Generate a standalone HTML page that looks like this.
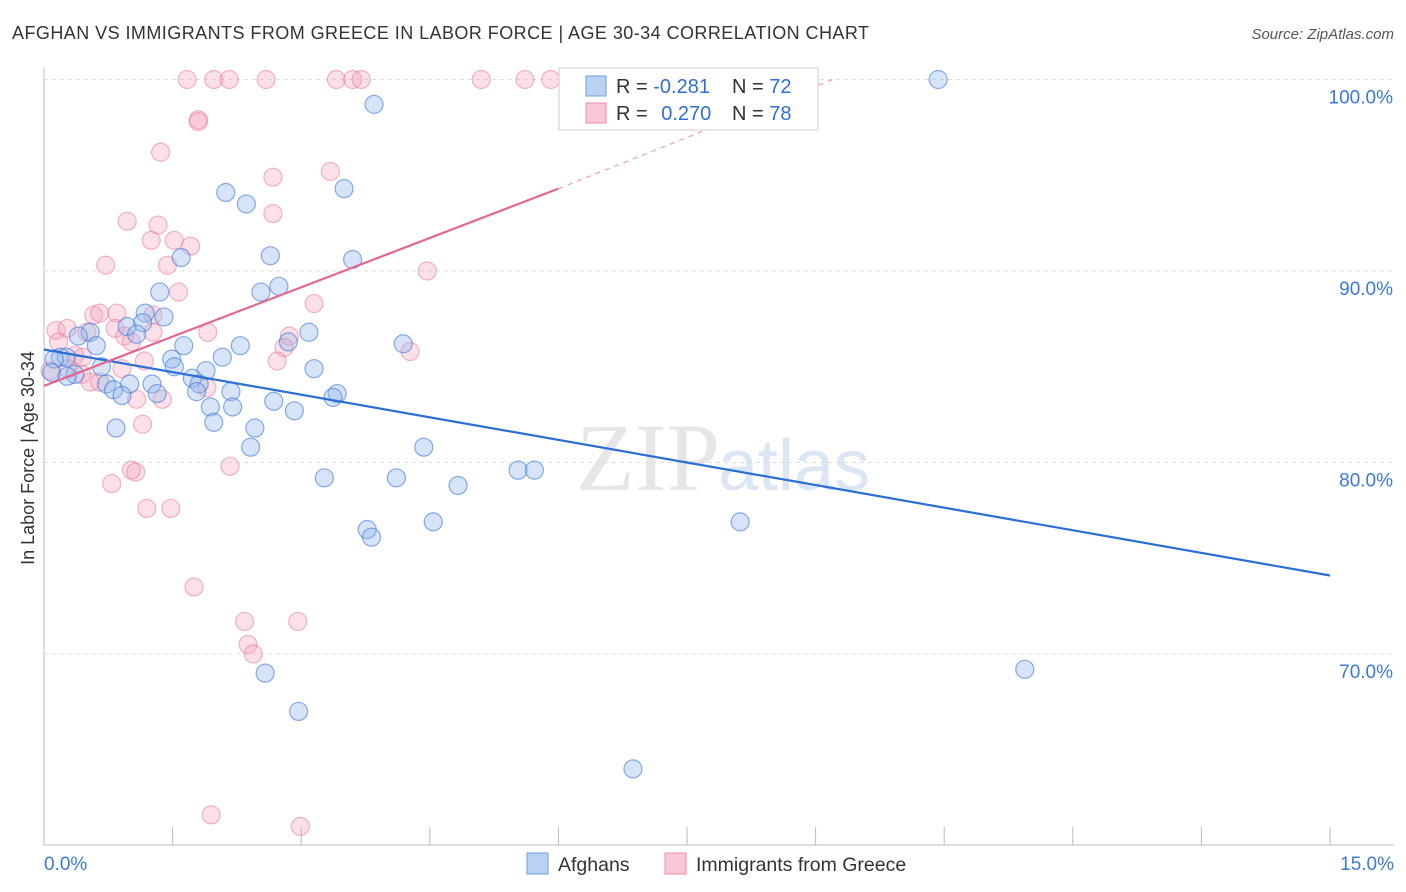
<!DOCTYPE html>
<html><head><meta charset="utf-8"><style>
body{margin:0;background:#fff;font-family:"Liberation Sans",sans-serif;}
svg{display:block}
</style></head><body>
<svg id="chart" width="1406" height="892">
<text x="12" y="39" font-size="18" fill="#333" textLength="857">AFGHAN VS IMMIGRANTS FROM GREECE IN LABOR FORCE | AGE 30-34 CORRELATION CHART</text>
<text x="1394" y="39" font-size="15" fill="#555" font-style="italic" text-anchor="end">Source: ZipAtlas.com</text>
<text x="720" y="490" font-size="96" fill="#e6e6e6" text-anchor="end" font-family="Liberation Serif">ZIP</text>
<text x="718" y="490" font-size="72" fill="#dbe6f4">atlas</text>
<text transform="translate(34,458) rotate(-90)" font-size="18" fill="#333" text-anchor="middle">In Labor Force | Age 30-34</text>
<g id="grid"></g><g id="pts"></g><g id="lines"></g>
<g>
<rect x="559" y="68" width="259" height="62" fill="#fff" stroke="#ccc"/>
<rect x="586" y="76" width="20" height="20" fill="#b9d1f3" stroke="#6f9ee0"/>
<rect x="586" y="103" width="20" height="20" fill="#f8c6d4" stroke="#ea8fab"/>
<text x="616" y="93" font-size="20" fill="#333">R = <tspan fill="#2f6fd6">-0.281</tspan></text>
<text x="732" y="93" font-size="20" fill="#333">N = <tspan fill="#2f6fd6">72</tspan></text>
<text x="616" y="120" font-size="20" fill="#333">R = <tspan fill="#2f6fd6" dx="8">0.270</tspan></text>
<text x="732" y="120" font-size="20" fill="#333">N = <tspan fill="#2f6fd6">78</tspan></text>
</g>
<g>
<rect x="527" y="853" width="21" height="21" fill="#b9d1f3" stroke="#6f9ee0"/>
<text x="558" y="871" font-size="19.5" fill="#333">Afghans</text>
<rect x="665" y="853" width="21" height="21" fill="#f8c6d4" stroke="#ea8fab"/>
<text x="696" y="871" font-size="19.5" fill="#333">Immigrants from Greece</text>
</g>
</svg>
<script>
const blueX=[10.43,3.85,3.50,2.12,2.36,2.64,1.60,3.60,2.74,2.53,1.35,1.18,1.40,0.97,1.15,0.54,1.08,3.09,0.40,0.61,1.63,2.29,4.19,2.85,0.19,0.26,0.12,1.49,2.08,1.52,0.67,3.15,1.89,0.09,0.36,0.27,1.73,1.81,1.26,1.00,0.73,0.81,1.78,2.18,0.91,1.32,3.42,3.37,2.68,1.94,2.20,2.92,1.98,0.84,2.46,2.41,4.43,5.53,5.72,3.27,4.11,4.83,4.54,8.12,3.77,3.82,2.58,11.44,2.97,6.87];
const blueY=[100.0,98.7,94.3,94.1,93.5,90.8,90.7,90.6,89.2,88.9,88.9,87.8,87.6,87.1,87.3,86.8,86.7,86.8,86.6,86.1,86.1,86.1,86.2,86.3,85.5,85.5,85.4,85.4,85.5,85.0,85.0,84.9,84.8,84.7,84.6,84.5,84.4,84.1,84.1,84.1,84.1,83.8,83.7,83.7,83.5,83.6,83.6,83.4,83.2,82.9,82.9,82.7,82.1,81.8,81.8,80.8,80.8,79.6,79.6,79.2,79.2,78.8,76.9,76.9,76.5,76.1,69.0,69.2,67.0,64.0];
const pinkX=[1.67,1.98,2.16,2.59,3.41,3.60,3.70,5.10,5.61,5.91,1.80,1.80,1.36,3.34,2.67,2.67,0.97,1.33,1.25,1.52,1.71,1.44,0.72,4.47,1.57,3.15,0.58,0.65,0.85,1.27,0.14,0.27,0.50,0.83,1.91,1.27,0.94,0.17,2.86,2.80,1.02,4.27,0.36,0.45,1.17,2.72,0.28,0.91,0.07,0.44,0.54,0.65,1.90,1.08,1.38,1.15,2.17,1.02,1.07,0.79,1.20,1.48,1.75,2.34,2.96,2.38,2.44,1.95,2.99];
const pinkY=[100,100,100,100,100,100,100,100,100,100,97.9,97.8,96.2,95.2,94.9,93.0,92.6,92.4,91.6,91.6,91.3,90.3,90.3,90.0,88.9,88.3,87.7,87.8,87.8,87.7,86.9,87.0,86.8,87.0,86.8,86.8,86.6,86.3,86.6,86.0,86.3,85.8,85.6,85.5,85.3,85.3,84.9,84.9,84.8,84.6,84.2,84.2,83.9,83.3,83.3,82.0,79.8,79.6,79.5,78.9,77.6,77.6,73.5,71.7,71.7,70.5,70.0,61.6,61.0];
const yTicks=[100,90,80,70];
const xTickVals=[0,1.5,3,4.5,6,7.5,9,10.5,12,13.5,15];
const blueTrend=[[0,85.9],[15,74.1]];
const pinkTrend=[[0,84.0],[6,94.3],[9.2,100]];
const X=v=>44+v/15*1286, Y=v=>79.5+(100-v)*19.15;
const NS='http://www.w3.org/2000/svg';
function mk(t,a,p){const e=document.createElementNS(NS,t);for(const k in a)e.setAttribute(k,a[k]);p.appendChild(e);return e;}
const grid=document.getElementById('grid');
let ax=mk('line',{x1:44,y1:68,x2:44,y2:845,stroke:'#bbb'},grid);


let bx=mk('line',{x1:44,y1:845,x2:1394,y2:845,stroke:'#bbb'},grid);


yTicks.forEach(v=>{
 const g=mk('line',{x1:44,x2:1394,y1:Y(v),y2:Y(v),stroke:'#ddd','stroke-dasharray':'4,4'},grid);
 
 
 const t=mk('text',{x:1393,y:Y(v)+24,'font-size':19,fill:'#3b78d8','text-anchor':'end'},grid);t.textContent=v.toFixed(1)+'%';
 
 
});
xTickVals.forEach(v=>{
 const l=mk('line',{x1:X(v),x2:X(v),y1:827,y2:845,stroke:'#bbb'},grid);
 
 
});
[[0,'start'],[15,'end']].forEach(([v,a])=>{
 const t=mk('text',{x:v===0?44:1394,y:870,'font-size':19,fill:'#3b78d8','text-anchor':a},grid);t.textContent=v.toFixed(1)+'%';
 
 
});
const pts=document.getElementById('pts');
pinkX.forEach((x,i)=>{const c=mk('circle',{cx:X(x),cy:Y(pinkY[i]),r:9,fill:'rgba(244,160,185,0.32)',stroke:'rgba(234,120,155,0.55)','stroke-width':1.2},pts);
 
 });
blueX.forEach((x,i)=>{const c=mk('circle',{cx:X(x),cy:Y(blueY[i]),r:9,fill:'rgba(150,185,235,0.38)',stroke:'rgba(60,120,215,0.6)','stroke-width':1.2},pts);
 
 });
const lines=document.getElementById('lines');
let bl=mk('line',{x1:X(blueTrend[0][0]),y1:Y(blueTrend[0][1]),x2:X(blueTrend[1][0]),y2:Y(blueTrend[1][1]),stroke:'#2a6fd6','stroke-width':2.2},lines);


let pl=mk('line',{x1:X(pinkTrend[0][0]),y1:Y(pinkTrend[0][1]),x2:X(pinkTrend[1][0]),y2:Y(pinkTrend[1][1]),stroke:'#e4668f','stroke-width':2.2},lines);


let pd=mk('line',{x1:X(pinkTrend[1][0]),y1:Y(pinkTrend[1][1]),x2:X(pinkTrend[2][0]),y2:Y(pinkTrend[2][1]),stroke:'#e9a0b8','stroke-width':1.2,'stroke-dasharray':'5,5'},lines);


</script>
</body></html>
